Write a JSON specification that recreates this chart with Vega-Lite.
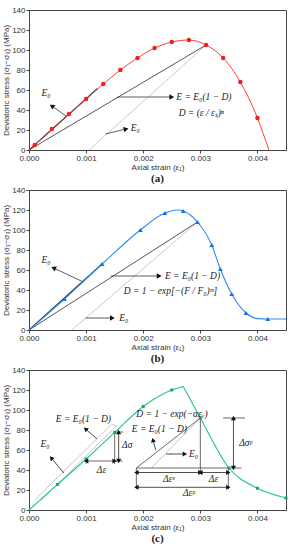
{
  "$schema": "https://vega.github.io/schema/vega-lite/v6.json",
  "padding": {"left": 2, "top": 5, "right": 5, "bottom": 0},
  "background": "white",
  "datasets": {
    "a_curve": [{"x":0,"y":0},{"x":0.0001,"y":5},{"x":0.0004,"y":21},{"x":0.0007,"y":36},{"x":0.001,"y":51},{"x":0.0013,"y":66},{"x":0.0016,"y":80},{"x":0.0019,"y":92},{"x":0.0022,"y":102},{"x":0.0025,"y":108},{"x":0.0028,"y":110},{"x":0.0031,"y":105},{"x":0.0034,"y":92},{"x":0.0037,"y":68},{"x":0.004,"y":32},{"x":0.0042,"y":0}],
    "a_lines": [{"kind":"unloading","x":0.00105,"y":0,"x2":0.0031,"y2":105},{"kind":"secant","x":0,"y":0,"x2":0.0031,"y2":105},{"kind":"tangent","x":0,"y":0,"x2":0.0012,"y2":61.5}],
    "a_arr": [{"x":0.00065,"y":34,"x2":0.0004,"y2":44},{"x":0.00155,"y":53,"x2":0.0025,"y2":53},{"x":0.00134,"y":16,"x2":0.0017,"y2":21}],
    "a_text": [{"x":0.00022,"y":57,"t":"E₀"},{"x":0.00258,"y":53,"t":"E = E₀(1 − D)"},{"x":0.00262,"y":37,"t":"D = (ε / εₛ)ⁿ"},{"x":0.00178,"y":22,"t":"E₀"}],
    "b_curve": [{"x":0,"y":0},{"x":0.00062,"y":31},{"x":0.00128,"y":66},{"x":0.00195,"y":100},{"x":0.00238,"y":117},{"x":0.0026,"y":120},{"x":0.0027,"y":119},{"x":0.00295,"y":108},{"x":0.0032,"y":85},{"x":0.00335,"y":61},{"x":0.00355,"y":36},{"x":0.0038,"y":17},{"x":0.004,"y":11.4},{"x":0.00418,"y":11},{"x":0.0045,"y":11}],
    "b_pts": [{"x":0.00062,"y":31},{"x":0.00128,"y":66},{"x":0.00195,"y":100},{"x":0.00238,"y":117},{"x":0.0027,"y":119},{"x":0.00295,"y":108},{"x":0.0032,"y":85},{"x":0.00335,"y":61},{"x":0.00355,"y":36},{"x":0.0038,"y":17},{"x":0.00418,"y":11}],
    "b_lines": [{"kind":"unloading","x":0.00075,"y":0,"x2":0.00295,"y2":108},{"kind":"secant","x":0,"y":0,"x2":0.00295,"y2":108},{"kind":"tangent","x":0,"y":0,"x2":0.00128,"y2":66}],
    "b_arr": [{"x":0.00093,"y":48.6,"x2":0.00043,"y2":62},{"x":0.00143,"y":54,"x2":0.00228,"y2":54},{"x":0.00099,"y":12,"x2":0.00146,"y2":12}],
    "b_text": [{"x":0.00022,"y":70,"t":"E₀"},{"x":0.00238,"y":54,"t":"E = E₀(1 − D)"},{"x":0.00166,"y":39,"t":"D = 1 − exp[−(F / F₀)ᵐ]"},{"x":0.00158,"y":12,"t":"E₀"}],
    "c_curve": [{"b":"pre","x":0,"y":0},{"b":"pre","x":0.0005,"y":25.6},{"b":"pre","x":0.001,"y":51},{"b":"pre","x":0.0015,"y":77.6},{"b":"pre","x":0.002,"y":103.5},{"b":"pre","x":0.0025,"y":120},{"b":"pre","x":0.0027,"y":123.5},{"b":"post","x":0.0027,"y":123.5},{"b":"post","x":0.003,"y":92},{"b":"post","x":0.0035,"y":42},{"b":"post","x":0.004,"y":21.7},{"b":"post","x":0.0045,"y":12}],
    "c_pts": [{"x":0.0005,"y":25.6},{"x":0.001,"y":51},{"x":0.0015,"y":77.6},{"x":0.002,"y":103.5},{"x":0.0025,"y":120},{"x":0.003,"y":92},{"x":0.0035,"y":42},{"x":0.004,"y":21.7},{"x":0.0045,"y":12}],
    "c_light": [{"x":0.0001,"y":10,"x2":0.00145,"y2":86},{"x":0.0002,"y":9,"x2":0.00153,"y2":84},{"x":0.00145,"y":86,"x2":0.00153,"y2":84},{"x":0.00214,"y":42,"x2":0.003,"y2":92}],
    "c_dark": [{"x":0.00188,"y":42,"x2":0.003,"y2":92},{"x":0.00188,"y":42,"x2":0.00372,"y2":42},{"x":0.003,"y":92,"x2":0.003,"y2":36},{"x":0.00188,"y":42,"x2":0.00188,"y2":21},{"x":0.00349,"y":42,"x2":0.00349,"y2":21},{"x":0.0034,"y":92,"x2":0.00378,"y2":92},{"x":0.001,"y":49,"x2":0.00164,"y2":49},{"x":0.0015,"y":78,"x2":0.00165,"y2":78},{"x":0.001,"y":51,"x2":0.001,"y2":46},{"x":0.0015,"y":78,"x2":0.0015,"y2":46}],
    "c_arr": [{"x":0.00119,"y":71,"x2":0.00099,"y2":81},{"x":0.00061,"y":37,"x2":0.00039,"y2":52},{"x":0.00222,"y":60,"x2":0.00217,"y2":70},{"x":0.0024,"y":56,"x2":0.00273,"y2":56},{"x":0.00157,"y":78,"x2":0.00157,"y2":49},{"x":0.00358,"y":92,"x2":0.00358,"y2":42},{"x":0.00188,"y":37.5,"x2":0.00349,"y2":37.5},{"x":0.00188,"y":22.7,"x2":0.00349,"y2":22.7}],
    "c_text": [{"x":0.00047,"y":91,"t":"E = E₀(1 − D)"},{"x":0.0002,"y":66,"t":"E₀"},{"x":0.00188,"y":96,"t":"D = 1 − exp(−αεᵥ)"},{"x":0.0018,"y":81,"t":"E = E₀(1 − D)"},{"x":0.0028,"y":56,"t":"E₀"},{"x":0.00163,"y":65,"t":"Δσ"},{"x":0.00368,"y":67,"t":"Δσᵖ"}],
    "c_ctext": [{"x":0.00127,"y":40,"t":"Δε"},{"x":0.00245,"y":30.6,"t":"Δεᵉ"},{"x":0.00323,"y":30.6,"t":"Δε"},{"x":0.0028,"y":17,"t":"Δεᵖ"}]
  },
  "config": {
    "view": {"stroke": "#444", "strokeWidth": 1},
    "concat": {"spacing": 0},
    "axis": {"labelFont": "Liberation Sans", "labelFontSize": 8, "labelColor": "#333", "titleFont": "Liberation Sans", "titleFontSize": 8, "titleFontWeight": "normal", "titleColor": "#333", "domainColor": "#444", "tickColor": "#444", "tickSize": 3, "grid": false, "labelPadding": 1, "titlePadding": 1, "labelFlush": false},
    "title": {"orient": "bottom", "font": "Liberation Serif", "fontSize": 11, "fontWeight": "bold", "offset": 2, "color": "#222"}
  },
  "vconcat": [
    {
      "width": 257, "height": 140,
      "title": {"text": "(a)"},
      "encoding": {
        "x": {"field": "x", "type": "quantitative", "scale": {"domain": [0, 0.0045], "nice": false, "zero": false, "padding": 0}, "axis": {"values": [0, 0.001, 0.002, 0.003, 0.004], "format": ".3f", "title": "Axial strain (ε₁)"}},
        "y": {"field": "y", "type": "quantitative", "scale": {"domain": [0, 140], "nice": false, "padding": 0}, "axis": {"values": [0, 20, 40, 60, 80, 100, 120, 140], "title": "Deviatoric stress (σ₁−σ₃) (MPa)"}}
      },
      "layer": [
        {"data": {"name": "a_lines"}, "transform": [{"filter": "datum.kind == 'unloading'"}], "mark": {"type": "rule", "color": "#a8a8a8", "strokeWidth": 0.6}, "encoding": {"x2": {"field": "x2"}, "y2": {"field": "y2"}}},
        {"data": {"name": "a_lines"}, "transform": [{"filter": "datum.kind == 'secant'"}], "mark": {"type": "rule", "color": "#555", "strokeWidth": 1}, "encoding": {"x2": {"field": "x2"}, "y2": {"field": "y2"}}},
        {"data": {"name": "a_lines"}, "transform": [{"filter": "datum.kind == 'tangent'"}], "mark": {"type": "rule", "color": "#222", "strokeWidth": 1.1}, "encoding": {"x2": {"field": "x2"}, "y2": {"field": "y2"}}},
        {"data": {"name": "a_curve"}, "mark": {"type": "line", "color": "#ff3b3b", "strokeWidth": 1, "interpolate": "monotone"}, "encoding": {}},
        {"data": {"name": "a_curve"}, "transform": [{"filter": "datum.y > 0"}], "mark": {"type": "point", "shape": "circle", "filled": true, "color": "#f02020", "size": 20, "opacity": 1}, "encoding": {}},
        {"data": {"name": "a_arr"}, "mark": {"type": "rule", "color": "#333", "strokeWidth": 0.8}, "encoding": {"x2": {"field": "x2"}, "y2": {"field": "y2"}}},
        {"data": {"values": [{"x": 0.0004, "y": 44}]}, "mark": {"type": "point", "shape": "triangle-right", "filled": true, "color": "#111", "size": 30, "angle": 215, "opacity": 1}, "encoding": {}},
        {"data": {"values": [{"x": 0.0025, "y": 53}]}, "mark": {"type": "point", "shape": "triangle-right", "filled": true, "color": "#111", "size": 30, "angle": 0, "opacity": 1}, "encoding": {}},
        {"data": {"values": [{"x": 0.0017, "y": 21}]}, "mark": {"type": "point", "shape": "triangle-right", "filled": true, "color": "#111", "size": 30, "angle": 346, "opacity": 1}, "encoding": {}},
        {"data": {"name": "a_text"}, "mark": {"type": "text", "align": "left", "baseline": "middle", "font": "Liberation Serif", "fontSize": 9.5, "fontStyle": "italic", "color": "#222"}, "encoding": {"text": {"field": "t"}}}
      ]
    },
    {
      "width": 257, "height": 140,
      "title": {"text": "(b)"},
      "encoding": {
        "x": {"field": "x", "type": "quantitative", "scale": {"domain": [0, 0.0045], "nice": false, "zero": false, "padding": 0}, "axis": {"values": [0, 0.001, 0.002, 0.003, 0.004], "format": ".3f", "title": "Axial strain (ε₁)"}},
        "y": {"field": "y", "type": "quantitative", "scale": {"domain": [0, 140], "nice": false, "padding": 0}, "axis": {"values": [0, 20, 40, 60, 80, 100, 120, 140], "title": "Deviatoric stress (σ₁−σ₃) (MPa)"}}
      },
      "layer": [
        {"data": {"name": "b_lines"}, "transform": [{"filter": "datum.kind == 'unloading'"}], "mark": {"type": "rule", "color": "#a8a8a8", "strokeWidth": 0.6}, "encoding": {"x2": {"field": "x2"}, "y2": {"field": "y2"}}},
        {"data": {"name": "b_lines"}, "transform": [{"filter": "datum.kind == 'secant'"}], "mark": {"type": "rule", "color": "#555", "strokeWidth": 1}, "encoding": {"x2": {"field": "x2"}, "y2": {"field": "y2"}}},
        {"data": {"name": "b_lines"}, "transform": [{"filter": "datum.kind == 'tangent'"}], "mark": {"type": "rule", "color": "#222", "strokeWidth": 1.1}, "encoding": {"x2": {"field": "x2"}, "y2": {"field": "y2"}}},
        {"data": {"name": "b_curve"}, "mark": {"type": "line", "color": "#2b8cf0", "strokeWidth": 1.1, "interpolate": "monotone"}, "encoding": {}},
        {"data": {"name": "b_pts"}, "mark": {"type": "point", "shape": "triangle-up", "filled": true, "color": "#1a6fe0", "size": 24, "opacity": 1}, "encoding": {}},
        {"data": {"name": "b_arr"}, "mark": {"type": "rule", "color": "#333", "strokeWidth": 0.8}, "encoding": {"x2": {"field": "x2"}, "y2": {"field": "y2"}}},
        {"data": {"values": [{"x": 0.00043, "y": 62}]}, "mark": {"type": "point", "shape": "triangle-right", "filled": true, "color": "#111", "size": 30, "angle": 205, "opacity": 1}, "encoding": {}},
        {"data": {"values": [{"x": 0.00228, "y": 54}, {"x": 0.00146, "y": 12}]}, "mark": {"type": "point", "shape": "triangle-right", "filled": true, "color": "#111", "size": 30, "angle": 0, "opacity": 1}, "encoding": {}},
        {"data": {"name": "b_text"}, "mark": {"type": "text", "align": "left", "baseline": "middle", "font": "Liberation Serif", "fontSize": 9.5, "fontStyle": "italic", "color": "#222"}, "encoding": {"text": {"field": "t"}}}
      ]
    },
    {
      "width": 257, "height": 140,
      "title": {"text": "(c)"},
      "encoding": {
        "x": {"field": "x", "type": "quantitative", "scale": {"domain": [0, 0.0045], "nice": false, "zero": false, "padding": 0}, "axis": {"values": [0, 0.001, 0.002, 0.003, 0.004], "format": ".3f", "title": "Axial strain (ε₁)"}},
        "y": {"field": "y", "type": "quantitative", "scale": {"domain": [0, 140], "nice": false, "padding": 0}, "axis": {"values": [0, 20, 40, 60, 80, 100, 120, 140], "title": "Deviatoric stress (σ₁−σ₃) (MPa)"}}
      },
      "layer": [
        {"data": {"name": "c_light"}, "mark": {"type": "rule", "color": "#a0a0a0", "strokeWidth": 0.6}, "encoding": {"x2": {"field": "x2"}, "y2": {"field": "y2"}}},
        {"data": {"name": "c_dark"}, "mark": {"type": "rule", "color": "#444", "strokeWidth": 0.8}, "encoding": {"x2": {"field": "x2"}, "y2": {"field": "y2"}}},
        {"data": {"name": "c_curve"}, "mark": {"type": "line", "color": "#22c487", "strokeWidth": 1.1, "interpolate": "monotone"}, "encoding": {"detail": {"field": "b"}}},
        {"data": {"name": "c_pts"}, "mark": {"type": "point", "shape": "square", "filled": true, "color": "#13a86a", "size": 9, "opacity": 1}, "encoding": {}},
        {"data": {"name": "c_arr"}, "mark": {"type": "rule", "color": "#222", "strokeWidth": 0.8}, "encoding": {"x2": {"field": "x2"}, "y2": {"field": "y2"}}},
        {"data": {"values": [{"x": 0.00273, "y": 56}, {"x": 0.0015, "y": 49}, {"x": 0.003, "y": 37.5}, {"x": 0.00349, "y": 37.5}, {"x": 0.00349, "y": 22.7}]}, "mark": {"type": "point", "shape": "triangle-right", "filled": true, "color": "#111", "size": 26, "angle": 0, "opacity": 1}, "encoding": {}},
        {"data": {"values": [{"x": 0.001, "y": 49}, {"x": 0.00188, "y": 37.5}, {"x": 0.003, "y": 37.5}, {"x": 0.00188, "y": 22.7}]}, "mark": {"type": "point", "shape": "triangle-left", "filled": true, "color": "#111", "size": 26, "opacity": 1}, "encoding": {}},
        {"data": {"values": [{"x": 0.00157, "y": 78}, {"x": 0.00358, "y": 92}]}, "mark": {"type": "point", "shape": "triangle-up", "filled": true, "color": "#111", "size": 26, "opacity": 1}, "encoding": {}},
        {"data": {"values": [{"x": 0.00157, "y": 49}, {"x": 0.00358, "y": 42}]}, "mark": {"type": "point", "shape": "triangle-down", "filled": true, "color": "#111", "size": 26, "opacity": 1}, "encoding": {}},
        {"data": {"values": [{"x": 0.00099, "y": 81}]}, "mark": {"type": "point", "shape": "triangle-right", "filled": true, "color": "#111", "size": 26, "angle": 221, "opacity": 1}, "encoding": {}},
        {"data": {"values": [{"x": 0.00039, "y": 52}]}, "mark": {"type": "point", "shape": "triangle-right", "filled": true, "color": "#111", "size": 26, "angle": 230, "opacity": 1}, "encoding": {}},
        {"data": {"values": [{"x": 0.00217, "y": 70}]}, "mark": {"type": "point", "shape": "triangle-right", "filled": true, "color": "#111", "size": 26, "angle": 254, "opacity": 1}, "encoding": {}},
        {"data": {"name": "c_text"}, "mark": {"type": "text", "align": "left", "baseline": "middle", "font": "Liberation Serif", "fontSize": 9.5, "fontStyle": "italic", "color": "#222"}, "encoding": {"text": {"field": "t"}}},
        {"data": {"name": "c_ctext"}, "mark": {"type": "text", "align": "center", "baseline": "middle", "font": "Liberation Serif", "fontSize": 9.5, "fontStyle": "italic", "color": "#222"}, "encoding": {"text": {"field": "t"}}}
      ]
    }
  ]
}
